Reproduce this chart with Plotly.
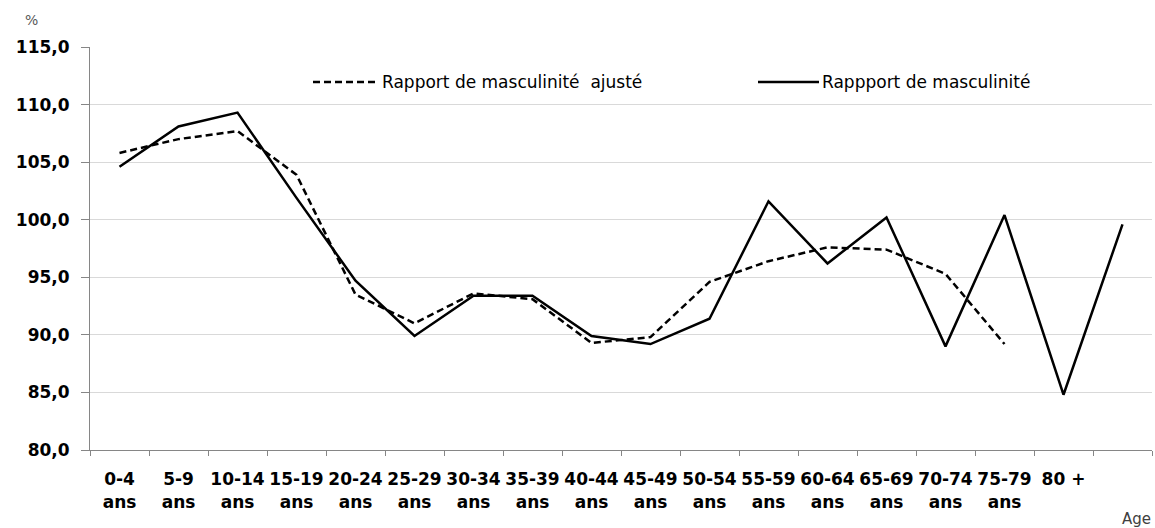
import plotly.graph_objects as go

categories = ["0-4<br>ans", "5-9<br>ans", "10-14<br>ans", "15-19<br>ans", "20-24<br>ans",
              "25-29<br>ans", "30-34<br>ans", "35-39<br>ans", "40-44<br>ans", "45-49<br>ans",
              "50-54<br>ans", "55-59<br>ans", "60-64<br>ans", "65-69<br>ans", "70-74<br>ans",
              "75-79<br>ans", "80 +", " "]
rapport = [104.6, 108.1, 109.3, 101.9, 94.7, 89.9, 93.4, 93.4, 89.9, 89.2,
           91.4, 101.6, 96.2, 100.2, 89.0, 100.4, 84.8, 99.6]
rapport_ajuste = [105.8, 107.0, 107.7, 103.9, 93.5, 91.0, 93.6, 93.1, 89.3, 89.8,
                  94.6, 96.4, 97.6, 97.4, 95.3, 89.2, None, None]
y_ticks = [80, 85, 90, 95, 100, 105, 110, 115]
y_tick_labels = ["80,0", "85,0", "90,0", "95,0", "100,0", "105,0", "110,0", "115,0"]
name_ajuste = "Rapport de masculinité  ajusté"
name_rapport = "Rappport de masculinité"

W, H = 1155, 528
L, R, T, B = 90, 3, 47, 78
pw = W - L - R
ph = H - T - B

def px(xp):
    return (xp - L) / pw

def py(yp):
    return (H - B - yp) / ph

fig = go.Figure()
fig.add_trace(go.Scatter(x=categories, y=rapport_ajuste, mode="lines", name=name_ajuste,
                         line=dict(color="black", width=2.5, dash="7px,4px"),
                         connectgaps=False, showlegend=False))
fig.add_trace(go.Scatter(x=categories, y=rapport, mode="lines", name=name_rapport,
                         line=dict(color="black", width=2.5), showlegend=False))

# manual legend
fig.add_shape(type="line", xref="paper", yref="paper", x0=px(313), x1=px(378), y0=py(82), y1=py(82),
              line=dict(color="black", width=2.5, dash="7px,4px"))
fig.add_shape(type="line", xref="paper", yref="paper", x0=px(758), x1=px(819), y0=py(82), y1=py(82),
              line=dict(color="black", width=2.5))
fig.add_annotation(xref="paper", yref="paper", x=px(380), y=py(82), xanchor="left", yanchor="middle",
                   text=name_ajuste, showarrow=False,
                   font=dict(family="DejaVu Sans", size=17, color="black"))
fig.add_annotation(xref="paper", yref="paper", x=px(820), y=py(82), xanchor="left", yanchor="middle",
                   text=name_rapport, showarrow=False,
                   font=dict(family="DejaVu Sans", size=17, color="black"))

# axis titles
fig.add_annotation(xref="paper", yref="paper", x=px(31), y=py(20.5), xanchor="center", yanchor="middle",
                   text="%", showarrow=False,
                   font=dict(family="DejaVu Sans", size=14, color="#595959"))
fig.add_annotation(xref="paper", yref="paper", x=px(1153), y=py(519), xanchor="right", yanchor="middle",
                   text="Age", showarrow=False,
                   font=dict(family="DejaVu Sans", size=15, color="#404040"))

fig.update_layout(
    width=W, height=H,
    margin=dict(l=L, r=R, t=T, b=B, autoexpand=False),
    paper_bgcolor="white", plot_bgcolor="white",
    showlegend=False,
    xaxis=dict(type="category", categoryorder="array", categoryarray=categories,
               tickson="boundaries", ticks="outside", ticklen=5, tickcolor="#868686",
               showline=True, linecolor="#868686", linewidth=1, showgrid=False,
               tickangle=0, ticklabelstandoff=14,
               tickfont=dict(family="DejaVu Sans", size=17, color="black", weight="bold"),
               range=[-0.5, 17.5]),
    yaxis=dict(range=[80, 115], tickvals=y_ticks, ticktext=y_tick_labels,
               ticks="outside", ticklen=8, tickcolor="#868686",
               showline=True, linecolor="#868686", linewidth=1,
               showgrid=True, gridcolor="#d9d9d9", gridwidth=1, zeroline=False,
               ticklabelstandoff=8,
               tickfont=dict(family="DejaVu Sans", size=17, color="black", weight="bold")),
)

fig.write_html("out.html", config={"displayModeBar": False},
               post_script="document.body.style.margin='0px';document.body.style.padding='0px';")
